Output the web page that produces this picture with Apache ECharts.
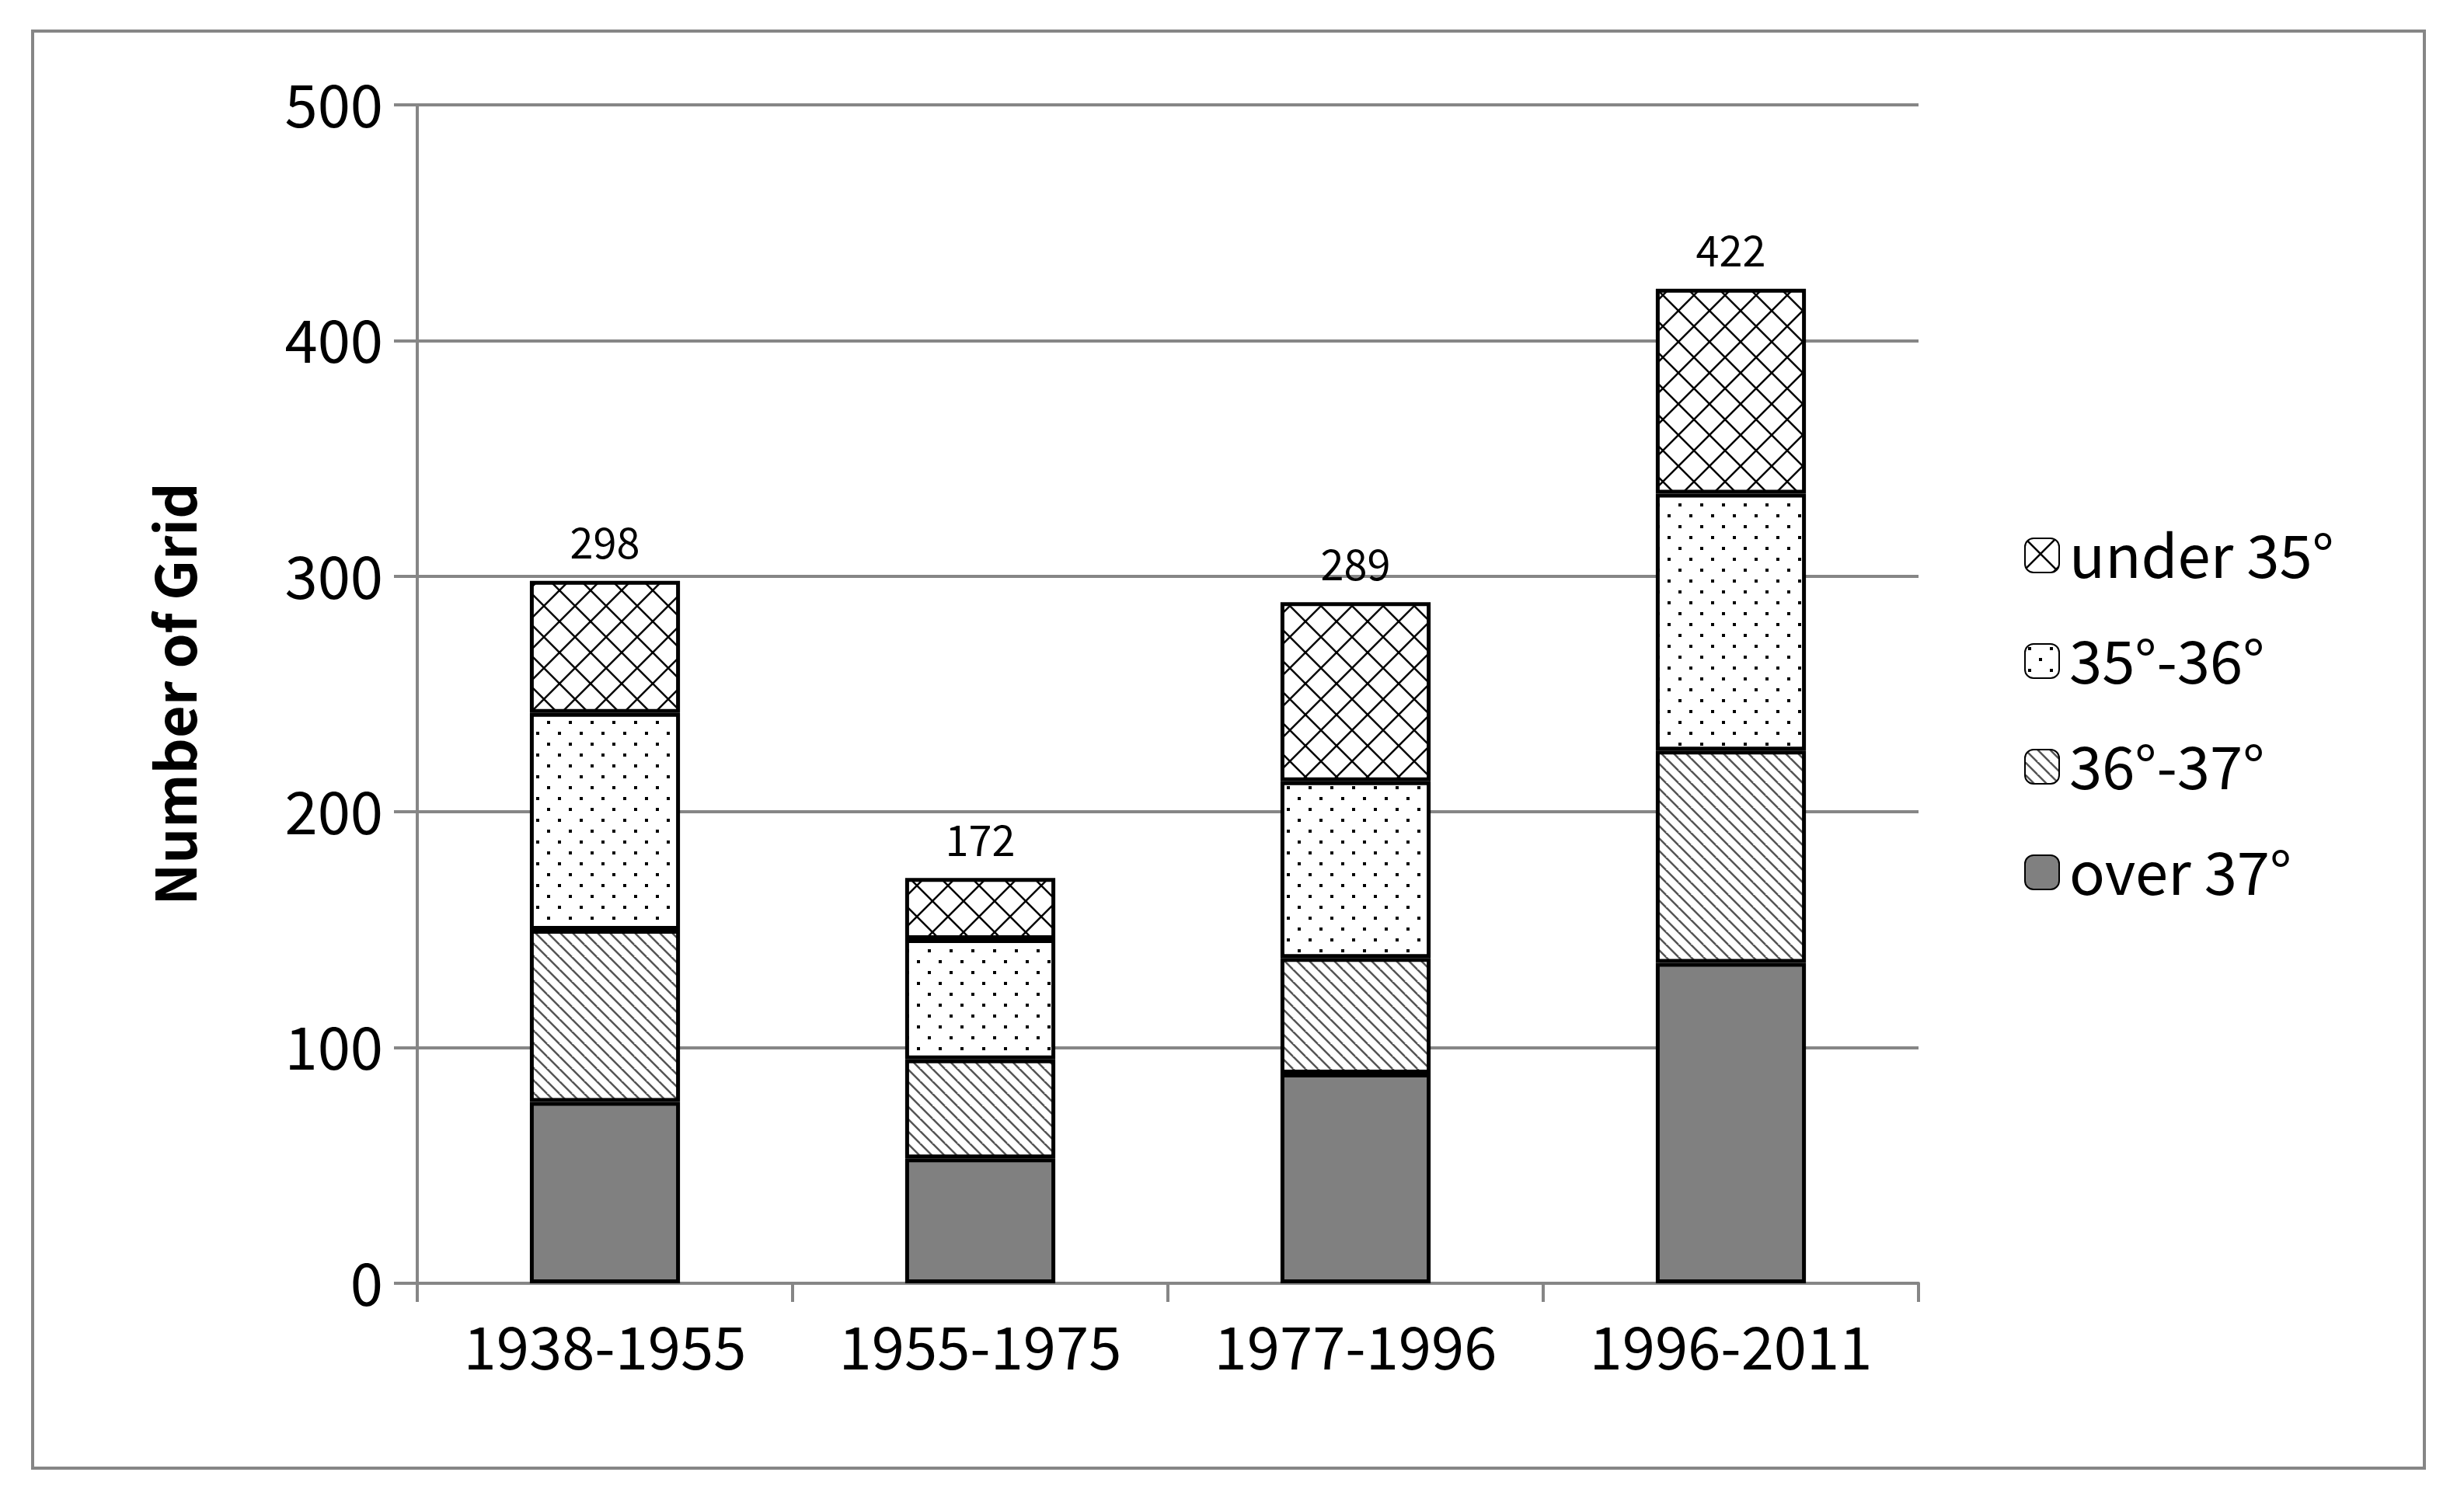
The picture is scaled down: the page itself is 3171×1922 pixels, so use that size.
<!DOCTYPE html>
<html>
<head>
<meta charset="utf-8">
<script src="https://cdn.jsdelivr.net/npm/echarts@6/dist/echarts.min.js"></script>
<style>html,body{margin:0;padding:0;background:#fff}#chart{width:3171px;height:1922px}</style>
</head>
<body>
<div id="chart"></div>
<script>
var periods=['1938-1955','1955-1975','1977-1996','1996-2011'];
var over37=[77,53,89,136];
var d36_37=[73,42,49,90];
var d35_36=[92,51,75,109];
var under35=[56,26,76,87];
var totals=[298,172,289,422];
var yTicks=[0,100,200,300,400,500];

// fill patterns
function pat(type){
	var c=document.createElement('canvas');
	var s=type=='cross'?40:(type=='dots'?28:16);
	c.width=s;c.height=s;
	var g=c.getContext('2d');
	g.fillStyle='#fff';g.fillRect(0,0,s,s);
	g.strokeStyle='#000';g.fillStyle='#000';
	if(type=='cross'){
		g.lineWidth=2.5;
		g.beginPath();g.moveTo(0,0);g.lineTo(s,s);g.moveTo(s,0);g.lineTo(0,s);g.stroke();
	}else if(type=='dots'){
		g.fillRect(4,4,4,4);g.fillRect(4+s/2,4+s/2,4,4);
	}else{
		g.strokeStyle='#555';g.lineWidth=2.5;
		g.beginPath();g.moveTo(0,0);g.lineTo(s,s);g.moveTo(-s,0);g.lineTo(0,s);g.moveTo(0,-s);g.lineTo(s*2,s);g.stroke();
	}
	return {image:c,repeat:'repeat'};
}

var font='"Noto Sans CJK KR","Noto Sans",sans-serif';
function ser(name,data,color,top){
	var s={name:name,type:'bar',stack:'a',data:data,barWidth:'40%',
		itemStyle:{color:color,borderColor:'#000',borderWidth:5},
		emphasis:{disabled:true}};
	if(top){
		s.label={show:true,position:'top',distance:22,fontSize:54,color:'#000',fontFamily:font,
			formatter:function(p){return totals[p.dataIndex];}};
	}
	return s;
}

var chart=echarts.init(document.getElementById('chart'));
chart.setOption({
	animation:false,
	backgroundColor:'#fff',
	graphic:[{type:'rect',shape:{x:42,y:40,width:3078,height:1850},style:{fill:'none',stroke:'#868686',lineWidth:4}}],
	grid:{left:537,right:702,top:135,bottom:270},
	legend:{orient:'vertical',left:2600,top:672,itemWidth:44,itemHeight:44,itemGap:60,
		data:['under 35°','35°-36°','36°-37°','over 37°'],
		textStyle:{fontSize:76,fontFamily:font,color:'#000',padding:[0,0,0,8]}},
	xAxis:{type:'category',data:periods,
		axisLine:{lineStyle:{color:'#868686',width:4}},
		axisTick:{show:true,length:24,lineStyle:{color:'#868686',width:4}},
		axisLabel:{fontSize:76,fontFamily:font,color:'#000',margin:44}},
	yAxis:{type:'value',min:yTicks[0],max:yTicks[yTicks.length-1],interval:100,
		name:'Number of Grid',nameLocation:'middle',nameGap:275,
		nameTextStyle:{fontSize:72,fontWeight:'bold',fontFamily:font,color:'#000'},
		axisLine:{show:true,lineStyle:{color:'#868686',width:4}},
		axisTick:{show:true,inside:false,length:30,lineStyle:{color:'#868686',width:4}},
		splitLine:{lineStyle:{color:'#868686',width:4}},
		axisLabel:{fontSize:76,fontFamily:font,color:'#000',margin:44}},
	series:[
		ser('over 37°',over37,'#808080'),
		ser('36°-37°',d36_37,pat('diag')),
		ser('35°-36°',d35_36,pat('dots')),
		ser('under 35°',under35,pat('cross'),true)
	]
});
</script>
</body>
</html>
